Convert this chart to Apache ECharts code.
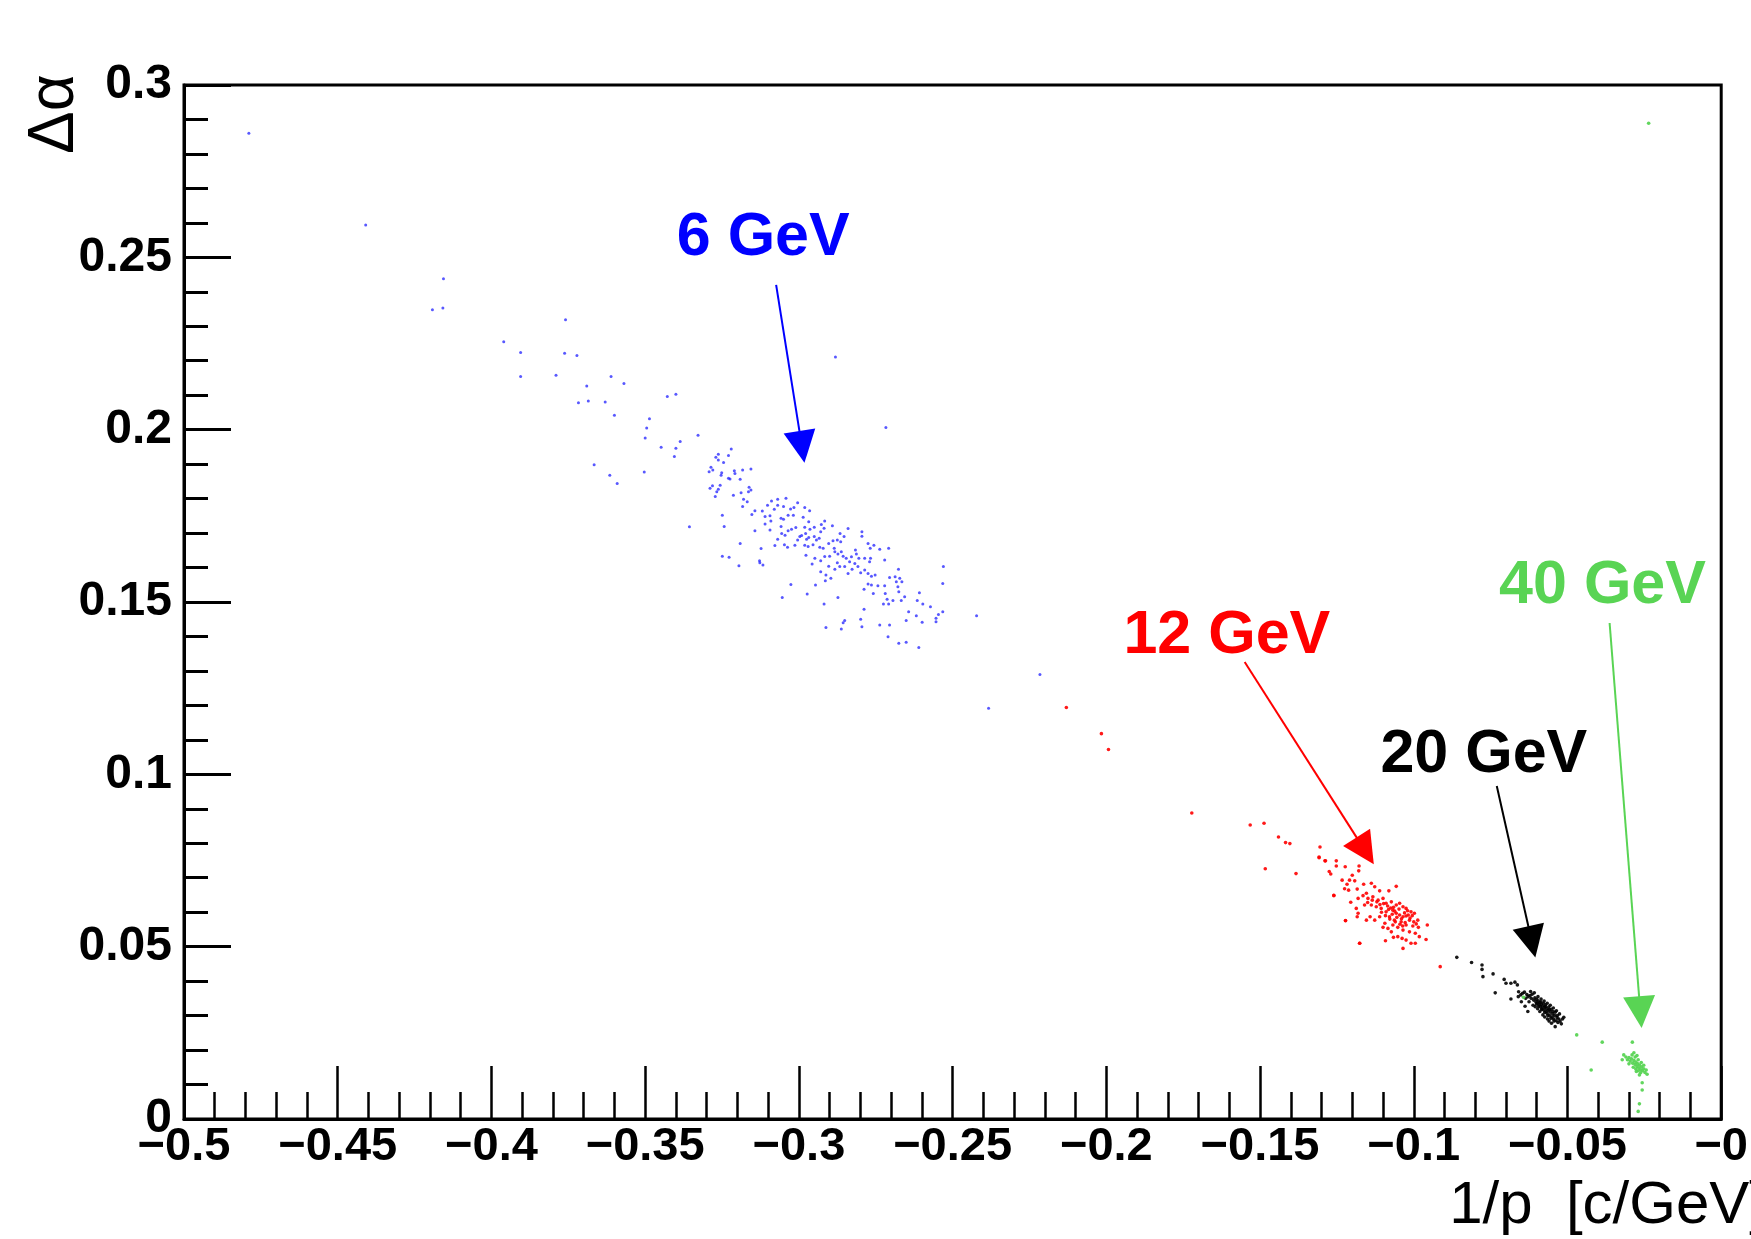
<!DOCTYPE html>
<html>
<head>
<meta charset="utf-8">
<title>Delta alpha vs 1/p</title>
<script src="https://cdn.jsdelivr.net/npm/echarts@6/dist/echarts.min.js"></script>
<style>
  html, body { margin: 0; padding: 0; background: #fff; }
  #chart { width: 1751px; height: 1239px; }
</style>
</head>
<body>
<div id="chart"></div>
<script>
// points [1/p, delta alpha]
const BLUE_PTS = [
  [-0.4789,0.2860],[-0.4409,0.2594],[-0.4156,0.2438],[-0.4192,0.2348],[-0.4158,0.2353],[-0.3759,0.2319],
  [-0.3960,0.2255],[-0.3905,0.2224],[-0.3762,0.2222],[-0.3722,0.2215],[-0.3905,0.2154],[-0.3790,0.2158],
  [-0.3611,0.2154],[-0.3569,0.2134],[-0.3690,0.2127],[-0.3717,0.2078],[-0.3685,0.2083],[-0.3630,0.2080],
  [-0.3428,0.2096],[-0.3400,0.2103],[-0.3600,0.2042],[-0.3486,0.2032],[-0.3495,0.2005],[-0.3500,0.1976],
  [-0.3328,0.1984],[-0.3386,0.1966],[-0.3448,0.1949],[-0.3400,0.1946],[-0.3405,0.1922],[-0.3666,0.1898],
  [-0.3615,0.1868],[-0.3591,0.1844],[-0.3503,0.1877],[-0.2881,0.2211],[-0.2717,0.2006],[-0.2422,0.1460],
  [-0.2383,0.1192],[-0.2216,0.1290],
  [-0.3262,0.1929],[-0.3270,0.1920],[-0.3229,0.1925],[-0.3220,0.1944],[-0.3262,0.1912],[-0.3245,0.1905],
  [-0.3286,0.1891],[-0.3292,0.1878],[-0.3280,0.1883],[-0.3251,0.1875],[-0.3253,0.1868],[-0.3229,0.1859],
  [-0.3224,0.1857],[-0.3210,0.1881],[-0.3208,0.1873],[-0.3183,0.1883],[-0.3156,0.1886],[-0.3191,0.1856],
  [-0.3289,0.1830],[-0.3281,0.1837],[-0.3256,0.1839],[-0.3267,0.1820],[-0.3262,0.1827],[-0.3272,0.1806],
  [-0.3213,0.1810],[-0.3188,0.1817],[-0.3162,0.1833],[-0.3156,0.1825],[-0.3164,0.1820],[-0.3180,0.1798],
  [-0.3168,0.1791],[-0.3183,0.1777],[-0.3249,0.1752],[-0.3356,0.1718],[-0.3243,0.1719],[-0.3191,0.1670],
  [-0.3249,0.1633],[-0.3227,0.1630],[-0.3195,0.1605],[-0.3153,0.1754],[-0.3143,0.1765],[-0.3119,0.1764],
  [-0.3102,0.1781],[-0.3089,0.1793],[-0.3069,0.1798],[-0.3042,0.1801],[-0.3080,0.1769],[-0.3069,0.1781],
  [-0.3050,0.1777],[-0.3027,0.1770],[-0.3016,0.1774],[-0.3004,0.1788],[-0.2981,0.1774],[-0.2965,0.1765],
  [-0.3110,0.1726],[-0.3091,0.1735],[-0.3094,0.1750],[-0.3058,0.1743],[-0.3050,0.1740],[-0.3035,0.1752],
  [-0.3018,0.1752],[-0.2986,0.1746],[-0.2968,0.1733],[-0.3143,0.1707],[-0.3094,0.1709],[-0.3058,0.1719],
  [-0.3056,0.1699],[-0.3045,0.1694],[-0.3035,0.1707],[-0.3024,0.1711],[-0.3010,0.1716],[-0.3069,0.1682],
  [-0.3078,0.1664],[-0.3047,0.1666],[-0.3037,0.1659],[-0.3013,0.1665],[-0.3004,0.1680],[-0.2997,0.1690],
  [-0.2991,0.1693],[-0.2978,0.1699],[-0.2975,0.1682],[-0.2968,0.1687],[-0.2950,0.1690],[-0.2943,0.1680],
  [-0.2954,0.1666],[-0.2970,0.1661],[-0.2981,0.1665],[-0.2977,0.1636],[-0.2948,0.1627],[-0.2957,0.1610],
  [-0.2964,0.1711],[-0.2950,0.1717],[-0.2929,0.1704],[-0.2927,0.1725],[-0.2916,0.1735],[-0.2918,0.1714],
  [-0.2934,0.1685],[-0.2921,0.1656],[-0.2903,0.1670],[-0.2889,0.1678],[-0.2891,0.1721],[-0.2875,0.1680],
  [-0.2864,0.1675],[-0.2866,0.1699],[-0.2853,0.1690],[-0.2840,0.1713],[-0.2885,0.1656],[-0.2883,0.1646],
  [-0.2900,0.1633],[-0.2873,0.1639],[-0.2862,0.1646],[-0.2856,0.1633],[-0.2846,0.1627],[-0.2875,0.1614],
  [-0.2867,0.1603],[-0.2851,0.1603],[-0.2835,0.1617],[-0.2829,0.1631],[-0.2816,0.1651],[-0.2813,0.1639],
  [-0.2805,0.1627],[-0.2795,0.1704],[-0.2795,0.1691],[-0.2775,0.1670],[-0.2768,0.1656],[-0.2756,0.1665],
  [-0.2737,0.1653],[-0.2708,0.1656],[-0.2786,0.1627],[-0.2767,0.1627],[-0.2770,0.1617],[-0.2721,0.1622],
  [-0.2818,0.1612],[-0.2808,0.1603],[-0.2827,0.1595],[-0.2840,0.1583],[-0.2799,0.1585],[-0.2786,0.1593],
  [-0.2775,0.1583],[-0.2764,0.1575],[-0.2752,0.1578],[-0.2775,0.1552],[-0.2764,0.1549],[-0.2743,0.1547],
  [-0.2721,0.1547],[-0.2705,0.1571],[-0.2687,0.1573],[-0.2676,0.1595],[-0.2672,0.1569],[-0.2665,0.1559],
  [-0.2683,0.1559],[-0.2678,0.1544],[-0.2719,0.1525],[-0.2758,0.1525],[-0.2788,0.1537],[-0.2873,0.1513],
  [-0.2713,0.1508],[-0.2694,0.1504],[-0.2725,0.1494],[-0.2708,0.1494],[-0.2675,0.1530],[-0.2656,0.1515],
  [-0.2667,0.1504],[-0.2615,0.1504],[-0.2608,0.1527],[-0.2597,0.1494],[-0.2572,0.1486],[-0.2643,0.1472],
  [-0.2618,0.1460],[-0.2599,0.1441],[-0.2651,0.1446],[-0.2554,0.1453],[-0.2554,0.1443],[-0.2546,0.1464],
  [-0.2532,0.1472],[-0.2530,0.1603],[-0.2532,0.1554],[-0.2788,0.1479],[-0.2799,0.1450],[-0.2795,0.1428],
  [-0.2851,0.1446],[-0.2856,0.1440],[-0.2862,0.1422],[-0.2912,0.1426],[-0.2737,0.1433],[-0.2705,0.1433],
  [-0.2710,0.1399],[-0.2675,0.1380],[-0.2651,0.1383],[-0.2610,0.1368],[-0.2918,0.1494],[-0.3054,0.1513],
  [-0.3026,0.1551],[-0.2973,0.1523],[-0.2946,0.1549],[-0.2929,0.1588],[-0.2912,0.1578],[-0.2914,0.1562],
  [-0.2896,0.1569],[-0.2903,0.1604],[-0.2883,0.1595],[-0.3128,0.1620],[-0.3127,0.1614],[-0.3117,0.1607],
  [-0.3123,0.1655],[-0.3110,0.1748],[-0.2981,0.1717],[-0.2932,0.1659],[-0.2916,0.1632],[-0.2929,0.1620]
];

const RED_PTS = [
  [-0.2130,0.1194],[-0.2016,0.1118],[-0.1993,0.1072],[-0.1722,0.0888],[-0.1532,0.0853],[-0.1487,0.0858],
  [-0.1440,0.0818],[-0.1417,0.0802],[-0.1403,0.0799],[-0.1305,0.0789],[-0.1483,0.0726],[-0.1383,0.0712],
  [-0.1308,0.0760],[-0.1289,0.0749],[-0.1260,0.0649],[-0.1222,0.0576],[-0.1176,0.0510],[-0.0914,0.0442],
  [-0.1308,0.0758],[-0.1287,0.0749],[-0.1252,0.0749],[-0.1252,0.0734],[-0.1223,0.0732],[-0.1178,0.0734],
  [-0.1179,0.0720],[-0.1275,0.0718],[-0.1270,0.0711],[-0.1233,0.0693],[-0.1200,0.0707],[-0.1209,0.0693],
  [-0.1192,0.0691],[-0.1217,0.0681],[-0.1225,0.0668],[-0.1212,0.0664],[-0.1184,0.0667],[-0.1163,0.0681],
  [-0.1138,0.0684],[-0.1127,0.0674],[-0.1111,0.0662],[-0.1081,0.0662],[-0.1057,0.0675],[-0.1260,0.0648],
  [-0.1205,0.0629],[-0.1181,0.0640],[-0.1154,0.0655],[-0.1149,0.0640],[-0.1133,0.0645],[-0.1116,0.0635],
  [-0.1100,0.0640],[-0.1090,0.0626],[-0.1073,0.0630],[-0.1057,0.0621],[-0.1046,0.0626],[-0.1035,0.0616],
  [-0.1025,0.0611],[-0.1009,0.0601],[-0.0998,0.0597],[-0.1068,0.0606],[-0.1057,0.0597],[-0.1046,0.0592],
  [-0.1035,0.0587],[-0.1025,0.0589],[-0.1014,0.0577],[-0.0987,0.0577],[-0.1090,0.0601],[-0.1106,0.0611],
  [-0.1122,0.0616],[-0.1138,0.0621],[-0.1160,0.0621],[-0.1187,0.0611],[-0.1181,0.0597],[-0.1184,0.0587],
  [-0.1154,0.0577],[-0.1127,0.0577],[-0.1111,0.0587],[-0.1079,0.0587],[-0.1063,0.0577],[-0.1041,0.0572],
  [-0.1025,0.0563],[-0.1003,0.0560],[-0.1222,0.0575],[-0.1142,0.0587],[-0.1100,0.0556],[-0.1084,0.0553],
  [-0.1068,0.0563],[-0.1052,0.0556],[-0.1035,0.0548],[-0.1014,0.0543],[-0.0995,0.0539],[-0.0956,0.0563],
  [-0.1092,0.0517],[-0.1066,0.0527],[-0.1052,0.0529],[-0.1038,0.0524],[-0.1025,0.0519],[-0.1009,0.0510],
  [-0.0995,0.0510],[-0.0982,0.0529],[-0.0960,0.0521],[-0.1176,0.0510],[-0.1035,0.0495],[-0.1073,0.0543],
  [-0.1094,0.0568],
  [-0.1075,0.0612],[-0.1062,0.0603],[-0.1048,0.0609],[-0.1030,0.0598],[-0.1018,0.0592],[-0.1040,0.0581],
  [-0.1055,0.0585],[-0.1070,0.0594],[-0.1085,0.0618],[-0.1098,0.0625],[-0.1110,0.0622],[-0.1120,0.0630],
  [-0.1012,0.0583],[-0.1000,0.0572],[-0.0992,0.0566],[-0.1028,0.0570],[-0.1045,0.0565],[-0.1060,0.0572],
  [-0.1078,0.0580],[-0.1092,0.0590],[-0.1105,0.0600],[-0.1135,0.0635],[-0.1150,0.0628],[-0.1165,0.0648],
  [-0.1020,0.0604],[-0.1005,0.0590],[-0.0985,0.0556],[-0.1036,0.0560],[-0.1066,0.0614],[-0.1082,0.0608]
];

const BLACK_PTS = [
  [-0.0860,0.0469],[-0.0812,0.0454],[-0.0778,0.0447],[-0.0778,0.0434],[-0.0775,0.0413],[-0.0742,0.0421],
  [-0.0706,0.0405],[-0.0700,0.0394],[-0.0684,0.0394],[-0.0671,0.0397],[-0.0663,0.0389],[-0.0735,0.0366],
  [-0.0684,0.0348],[-0.0659,0.0369],
  [-0.0646,0.0365],[-0.0640,0.0368],[-0.0632,0.0361],[-0.0628,0.0355],[-0.0622,0.0358],[-0.0618,0.0350],
  [-0.0615,0.0362],[-0.0610,0.0345],[-0.0606,0.0352],[-0.0603,0.0340],[-0.0600,0.0347],[-0.0598,0.0336],
  [-0.0595,0.0342],[-0.0592,0.0331],[-0.0590,0.0338],[-0.0588,0.0326],[-0.0585,0.0333],[-0.0583,0.0320],
  [-0.0581,0.0328],[-0.0579,0.0336],[-0.0577,0.0316],[-0.0575,0.0324],[-0.0572,0.0331],[-0.0570,0.0312],
  [-0.0568,0.0320],[-0.0566,0.0306],[-0.0563,0.0315],[-0.0561,0.0325],[-0.0558,0.0300],[-0.0556,0.0310],
  [-0.0553,0.0318],[-0.0550,0.0296],[-0.0548,0.0305],[-0.0545,0.0290],[-0.0542,0.0300],[-0.0540,0.0310],
  [-0.0537,0.0285],[-0.0534,0.0294],[-0.0531,0.0280],[-0.0528,0.0290],[-0.0524,0.0284],[-0.0520,0.0276],
  [-0.0516,0.0290],[-0.0612,0.0330],[-0.0605,0.0326],[-0.0597,0.0320],[-0.0590,0.0312],[-0.0580,0.0302],
  [-0.0574,0.0296],[-0.0565,0.0290],[-0.0560,0.0284],[-0.0552,0.0278],[-0.0625,0.0340],[-0.0636,0.0350],
  [-0.0652,0.0360],[-0.0660,0.0355],[-0.0620,0.0370],[-0.0608,0.0366],[-0.0596,0.0355],[-0.0586,0.0348],
  [-0.0576,0.0342],[-0.0566,0.0336],[-0.0556,0.0330],[-0.0546,0.0322],[-0.0536,0.0314],[-0.0526,0.0305],
  [-0.0594,0.0327],[-0.0584,0.0318],[-0.0574,0.0309],[-0.0564,0.0300],[-0.0554,0.0292],[-0.0544,0.0284],
  [-0.0601,0.0334],[-0.0587,0.0340],[-0.0571,0.0326],[-0.0559,0.0318],[-0.0547,0.0312],[-0.0533,0.0300],
  [-0.0512,0.0295],[-0.0540,0.0268],[-0.0638,0.0327],[-0.0629,0.0312],[-0.0650,0.0340]
];

const GREEN_PTS = [
  [-0.0317,0.0186],[-0.0310,0.0180],[-0.0305,0.0172],[-0.0300,0.0178],[-0.0296,0.0168],[-0.0292,0.0175],
  [-0.0288,0.0162],[-0.0284,0.0170],[-0.0280,0.0158],[-0.0277,0.0165],[-0.0274,0.0152],[-0.0271,0.0160],
  [-0.0268,0.0148],[-0.0265,0.0156],[-0.0262,0.0143],[-0.0259,0.0151],[-0.0256,0.0140],[-0.0252,0.0146],
  [-0.0248,0.0135],[-0.0244,0.0142],[-0.0241,0.0130],[-0.0286,0.0150],[-0.0278,0.0145],[-0.0270,0.0140],
  [-0.0262,0.0134],[-0.0290,0.0186],[-0.0280,0.0180],[-0.0270,0.0172],[-0.0260,0.0164],[-0.0252,0.0156],
  [-0.0322,0.0172],[-0.0300,0.0160],[-0.0276,0.0138],[-0.0266,0.0128],[-0.0284,0.0192],[-0.0274,0.0184],
  [-0.0470,0.0244],[-0.0387,0.0223],[-0.0289,0.0223],[-0.0423,0.0142],[-0.0257,0.0105],[-0.0257,0.0084],
  [-0.0266,0.0044],[-0.0236,0.2889],[-0.0643,0.0353],[-0.0270,0.0022]
];

// annotations: label text, label centre, arrow start, arrow head
const ANNOT_TEXT = ['6 GeV', '12 GeV', '20 GeV', '40 GeV'];
const ANNOT_COLOR = ['#0000ff', '#ff0000', '#000000', '#59d454'];
const ANNOT_AT = [[-0.3116, 0.2556], [-0.1608, 0.1401], [-0.0772, 0.1056], [-0.0386, 0.1546]];
const ARROW_FROM = [[-0.3074, 0.2420], [-0.1550, 0.1326], [-0.0730, 0.0966], [-0.0363, 0.1439]];
const ARROW_TO = [[-0.2990, 0.1950], [-0.1158, 0.0778], [-0.0616, 0.0514], [-0.0263, 0.0310]];

const FONT = '"Liberation Sans", Arial, Helvetica, sans-serif';

// ROOT writes the last x label as "-0"
function fmtX(v) {
  if (v === 0) return '\u22120';
  return String(v).replace('-', '\u2212');
}
function fmtY(v) {
  return String(v);
}

function scatter(data, color, size, opacity, idx) {
  return {
    type: 'scatter',
    data: data,
    symbol: 'circle',
    symbolSize: size,
    itemStyle: { color: color, opacity: opacity },
    silent: true,
    markLine: {
      silent: true,
      symbol: ['none', 'triangle'],
      symbolSize: 32,
      label: { show: false },
      lineStyle: { color: ANNOT_COLOR[idx], width: 2, type: 'solid' },
      itemStyle: { color: ANNOT_COLOR[idx] },
      data: [[{ coord: ARROW_FROM[idx] }, { coord: ARROW_TO[idx] }]]
    }
  };
}

const chart = echarts.init(document.getElementById('chart'), null, { renderer: 'canvas' });

const labelStyle = {
  color: '#000', fontWeight: 'bold', fontFamily: FONT,
  showMinLabel: true, showMaxLabel: true
};
const axisLine = { show: true, onZero: false, lineStyle: { color: '#000', width: 3 } };

chart.setOption({
  animation: false,
  backgroundColor: '#fff',
  grid: {
    left: 184, top: 85, width: 1542, height: 1034,
    show: true, borderColor: '#000', borderWidth: 3, backgroundColor: 'transparent'
  },
  xAxis: {
    type: 'value', min: -0.5, max: 0, interval: 0.05,
    splitLine: { show: false },
    axisLine: axisLine,
    axisTick: { show: true, inside: true, length: 53, lineStyle: { color: '#000', width: 2.5 } },
    minorTick: { show: true, splitNumber: 5, length: 27, lineStyle: { color: '#000', width: 2.5 } },
    axisLabel: Object.assign({}, labelStyle, { fontSize: 47, margin: 5, formatter: fmtX })
  },
  yAxis: {
    type: 'value', min: 0, max: 0.3, interval: 0.05,
    splitLine: { show: false },
    axisLine: axisLine,
    axisTick: { show: true, inside: true, length: 47, lineStyle: { color: '#000', width: 3 } },
    minorTick: { show: true, splitNumber: 5, length: 24, lineStyle: { color: '#000', width: 3 } },
    axisLabel: Object.assign({}, labelStyle, { fontSize: 48, margin: 12, formatter: fmtY })
  },
  series: [
    scatter(BLUE_PTS, '#2020ff', 3, 0.75, 0),
    scatter(RED_PTS, '#ff0000', 3.6, 0.9, 1),
    scatter(BLACK_PTS, '#000000', 3.6, 0.9, 2),
    scatter(GREEN_PTS, '#59d454', 3.6, 0.95, 3)
  ]
});

// text labels placed through the axes' scales
const graphics = ANNOT_TEXT.map((t, i) => {
  const p = chart.convertToPixel({ gridIndex: 0 }, ANNOT_AT[i]);
  return {
    type: 'text', x: p[0], y: p[1], silent: true,
    style: { text: t, fill: ANNOT_COLOR[i], font: 'bold 61px ' + FONT, align: 'center', verticalAlign: 'middle' }
  };
});
graphics.push({
  type: 'text', x: 1766, y: 1206, silent: true,
  style: { text: '1/p  [c/GeV]', fill: '#000', font: '60px ' + FONT, align: 'right', verticalAlign: 'middle' }
});
graphics.push({
  type: 'text', x: 55, y: 114, rotation: Math.PI / 2, silent: true,
  style: { text: '\u0394\u03b1', fill: '#000', font: '64px ' + FONT, align: 'center', verticalAlign: 'middle' }
});
chart.setOption({ graphic: graphics });
</script>
</body>
</html>
